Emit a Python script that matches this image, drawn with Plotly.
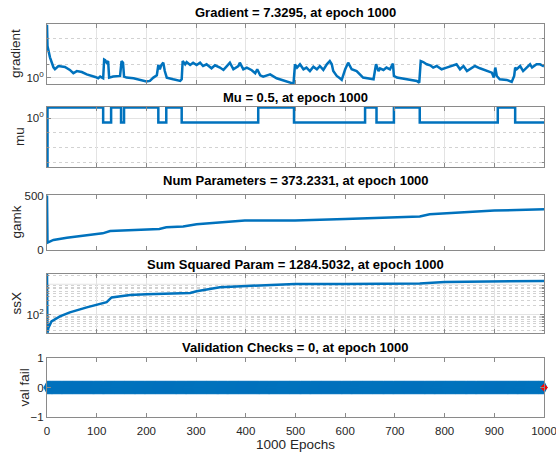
import plotly.graph_objects as go

BLUE = '#0072BD'
TXT = '#262626'
AXC = '#8a8a8a'
GRID = '#e3e3e3'
MGRID = '#d2d2d2'

# ---------------- data ----------------
grad_epoch = [0, 1, 6, 9, 13, 16, 23, 36, 46, 53, 60, 70, 80, 97, 103, 107, 113, 115, 117, 120, 123, 125,
              133, 147, 150, 153, 155, 160, 174, 200, 207, 214, 221, 224, 227, 230, 234, 237, 241, 254,
              268, 271, 273, 278, 281, 288, 294, 301, 308, 314, 321, 331, 338, 348, 355, 361, 368, 375,
              385, 388, 395, 402, 412, 419, 423, 429, 435, 449, 462, 496, 499, 503, 509, 516, 522, 529,
              536, 543, 549, 556, 563, 569, 573, 576, 583, 590, 593, 600, 606, 613, 623, 636, 643, 657,
              662, 667, 670, 677, 683, 690, 696, 698, 704, 717, 737, 744, 749, 752, 757, 764, 771, 777,
              784, 794, 804, 814, 824, 831, 838, 845, 851, 861, 871, 885, 895, 899, 902, 905, 911, 925,
              935, 940, 942, 945, 952, 958, 965, 972, 976, 985, 992, 1000]
grad_value = [10000, 245, 35, 15, 6.2, 4.4, 7.7, 6.5, 3.9, 2.2, 3.2, 2.7, 1.8, 1.15, 0.92, 1.23, 0.92, 24, 21.8, 13.8, 18.3, 1.03,
              1.23, 1.37, 18.3, 13.8, 1.23, 1.03, 0.92, 0.52, 0.58, 1.03, 1.54, 9.2, 4.4, 9.2, 13.8, 3.2, 1.03, 0.77,
              0.58, 0.77, 18.3, 10.4, 15.4, 9.2, 13.8, 9.2, 13.8, 7.7, 10.4, 5.2, 8.7, 5.9, 3.9, 6.9, 13.8, 4.4,
              7.7, 13.8, 4.4, 5.9, 3.7, 2.2, 4.4, 1.54, 1.23, 1.8, 0.92, 0.36, 10.4, 5.9, 10.4, 4.4, 5.9, 3.2,
              6.9, 4.4, 7.7, 3.9, 10.4, 18.3, 10.4, 3.2, 1.37, 0.87, 0.69, 4.4, 13.8, 4.4, 3.2, 1.03, 0.92, 0.77,
              10.4, 3.2, 5.2, 3.9, 5.9, 4.4, 11.7, 1.37, 1.03, 0.87, 0.65, 0.58, 0.43, 18.3, 15.4, 10.4, 8.7, 5.9,
              7.7, 4.4, 5.9, 7.7, 10.4, 4.4, 7.7, 3.2, 4.4, 7.7, 5.2, 3.2, 2.45, 1.03, 5.9, 1.37, 0.77, 0.69,
              0.49, 1.37, 5.9, 4.4, 7.7, 3.2, 5.9, 10.4, 5.9, 10.4, 10.4, 7.3295]

mu_epoch = [0, 1, 113, 129, 149, 155, 224, 240, 271, 425, 497, 640, 663, 698, 750, 907, 942, 1000]
mu_value = [0.0005, 5, 0.5, 5, 0.5, 5, 0.5, 5, 0.5, 5, 0.5, 5, 0.5, 5, 0.5, 5, 0.5, 0.5]

gamk_epoch = [0, 1, 13, 40, 100, 112, 127, 200, 226, 240, 274, 301, 361, 398, 463, 499, 600, 700, 750,
              770, 800, 877, 900, 1000]
gamk_value = [500, 67, 92, 113, 147, 153, 175, 190, 193, 209, 215, 236, 255, 270, 270, 272, 285, 301, 307,
              328, 335, 359, 362, 373.2331]

ssx_epoch = [0, 1, 3, 9, 26, 46, 80, 107, 120, 130, 147, 167, 200, 250, 288, 301, 348, 402, 462, 499,
             600, 700, 750, 800, 900, 1000]
ssx_value = [2200, 26, 38, 61, 89, 120, 175, 228, 258, 369, 400, 448, 470, 495, 520, 590, 795, 880, 980, 1020,
             1010, 1010, 1060, 1190, 1250, 1284.5032]

valfail_epoch = list(range(0, 1001))
valfail_value = [0] * len(valfail_epoch)
best_epoch = [1000]
best_value = [0]

titles = ['Gradient = 7.3295, at epoch 1000',
          'Mu = 0.5, at epoch 1000',
          'Num Parameters = 373.2331, at epoch 1000',
          'Sum Squared Param = 1284.5032, at epoch 1000',
          'Validation Checks = 0, at epoch 1000']
ylabels = ['gradient', 'mu', 'gamk', 'ssX', 'val fail']
x_ticks = list(range(0, 1001, 100))

# ---------------- layout geometry ----------------
W, H = 556, 452
ML, MR, MT, MB = 47, 12, 24, 35
PH = H - MT - MB
PW = W - ML - MR


def py(px):
    return (H - MB - px) / PH


def pxx(px):
    return (px - ML) / PW


axes_px = [(24, 84), (107, 167), (195, 250), (274, 333), (358, 417)]
title_px = [13, 97, 181, 264, 347]
ylabel_x = [15, 19, 16, 16, 24]

fig = go.Figure()

lw = 2.5
fig.add_trace(go.Scatter(x=grad_epoch, y=grad_value, mode='lines', line=dict(color=BLUE, width=lw),
                         xaxis='x', yaxis='y', showlegend=False))
fig.add_trace(go.Scatter(x=mu_epoch, y=mu_value, mode='lines', line=dict(color=BLUE, width=lw, shape='hv'),
                         xaxis='x2', yaxis='y2', showlegend=False))
fig.add_trace(go.Scatter(x=gamk_epoch, y=gamk_value, mode='lines', line=dict(color=BLUE, width=lw),
                         xaxis='x3', yaxis='y3', showlegend=False))
fig.add_trace(go.Scatter(x=ssx_epoch, y=ssx_value, mode='lines', line=dict(color=BLUE, width=lw),
                         xaxis='x4', yaxis='y4', showlegend=False))
fig.add_trace(go.Scatter(x=valfail_epoch, y=valfail_value, mode='lines+markers',
                         line=dict(color=BLUE, width=2),
                         marker=dict(symbol='diamond-tall', size=10, color=BLUE, line=dict(width=0)),
                         cliponaxis=False, xaxis='x5', yaxis='y5', showlegend=False))
fig.add_trace(go.Scatter(x=best_epoch, y=best_value, mode='markers',
                         marker=dict(symbol='diamond', size=6, color='#ff0000', line=dict(width=0)),
                         cliponaxis=False, xaxis='x5', yaxis='y5', showlegend=False))

tickfont = dict(family='Liberation Sans, Arial, sans-serif', size=11.5, color=TXT)

layout = dict(
    width=W, height=H,
    margin=dict(l=ML, r=MR, t=MT, b=MB, pad=0, autoexpand=False),
    paper_bgcolor='white', plot_bgcolor='white',
    font=dict(family='Liberation Sans, Arial, sans-serif', color=TXT),
    showlegend=False,
)

grid_on = [True, True, False, True, False]
for i in range(5):
    sfx = '' if i == 0 else str(i + 1)
    top, bot = axes_px[i]
    layout['xaxis' + sfx] = dict(
        domain=[0, 1], range=[0, 1000], anchor='y' + sfx, automargin=False,
        tickvals=x_ticks, ticks='inside', ticklen=4, tickcolor=AXC,
        showline=True, linecolor=AXC, linewidth=1, mirror='ticks',
        showgrid=grid_on[i], gridcolor=GRID, gridwidth=1, zeroline=False,
        showticklabels=(i == 4), tickfont=tickfont,
    )
    layout['yaxis' + sfx] = dict(
        domain=[py(bot), py(top)], anchor='x' + sfx, automargin=False,
        ticks='inside', ticklen=4, tickcolor=AXC,
        showline=True, linecolor=AXC, linewidth=1, mirror='ticks',
        showgrid=grid_on[i], gridcolor=GRID, zeroline=False, tickfont=tickfont,
    )

layout['xaxis5']['title'] = dict(text='1000 Epochs', font=dict(size=13.5, color=TXT), standoff=5)
layout['xaxis5']['ticklabelstandoff'] = 3
layout['xaxis5']['ticklabeloverflow'] = 'allow'

layout['yaxis'].update(type='log', range=[-0.47, 4.06], tickvals=[1], ticktext=['10<sup>0</sup>'],
                       minor=dict(tickvals=[10, 100, 1000], showgrid=True, gridcolor=MGRID, griddash='dot',
                                  ticks='inside', ticklen=2, tickcolor=AXC))
layout['yaxis2'].update(type='log', range=[-3.29, 0.74], tickvals=[1], ticktext=['10<sup>0</sup>'],
                        minor=dict(tickvals=[0.1, 0.01, 0.001], showgrid=True, gridcolor=MGRID, griddash='dot',
                                   ticks='inside', ticklen=2, tickcolor=AXC))
layout['yaxis3'].update(range=[0, 505], tickvals=[0, 500])
minor4 = [v * m for m in (10, 100, 1000) for v in range(2, 10) if 25 < v * m < 2200]
layout['yaxis4'].update(type='log', range=[1.404, 3.335], tickvals=[100],
                        ticktext=['10<sup>2</sup>'],
                        minor=dict(tickvals=minor4, showgrid=True, gridcolor=MGRID, griddash='dot',
                                   ticks='inside', ticklen=2, tickcolor=AXC))
layout['yaxis5'].update(range=[-1, 1], tickvals=[-1, 0, 1])

fig.update_layout(**layout)

# major (solid) grid line of the 10^3 decade in the ssX panel
fig.add_shape(type='line', xref='x4 domain', yref='y4', x0=0, x1=1, y0=1000, y1=1000,
              layer='below', line=dict(color=GRID, width=1))

for i in range(5):
    fig.add_annotation(text='<b>%s</b>' % titles[i], xref='paper', yref='paper', x=0.5, y=py(title_px[i]),
                       xanchor='center', yanchor='middle', showarrow=False,
                       font=dict(size=13, color='#000000'))
    top, bot = axes_px[i]
    fig.add_annotation(text=ylabels[i], xref='paper', yref='paper', x=pxx(ylabel_x[i]),
                       y=py((top + bot) / 2), xanchor='center', yanchor='middle', textangle=-90,
                       showarrow=False, font=dict(size=13.5, color=TXT))

fig.write_html('out.html')
